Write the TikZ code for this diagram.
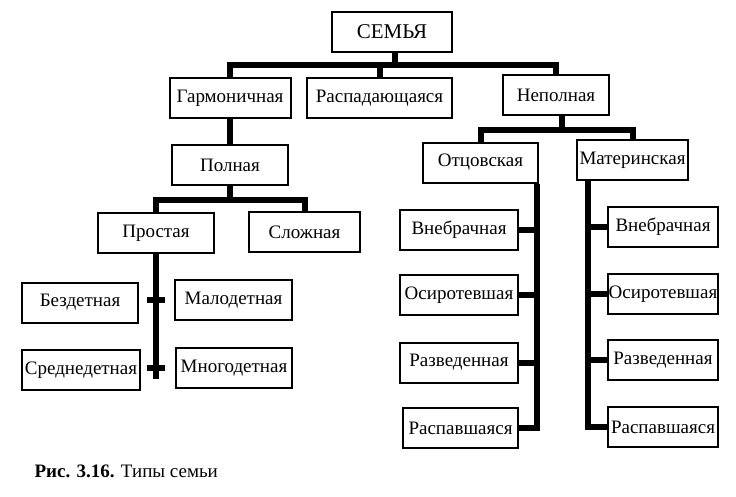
\documentclass[tikz,border=0pt]{standalone}
\usepackage{fontspec}
\setmainfont{Liberation Serif}
\begin{document}
\begin{tikzpicture}[x=1pt, y=-1pt, box/.style={draw, line width=2pt, minimum height=40pt, inner sep=1pt, font=\fontsize{19}{22}\selectfont}, link/.style={draw=black, line width=6pt}]
\useasboundingbox (0,0) rectangle (736,496);
\begin{scope}
\node[box,minimum width=120pt,font=\fontsize{21}{24}\selectfont] (semya) at (392,32) {СЕМЬЯ};%top
\node[box,minimum width=121pt] (garm) at (230,98) {Гармоничная};
\node[box,minimum width=145pt] (raspad) at (379.5,98) {Распадающаяся};
\node[box,minimum width=106pt] (nepol) at (556,95) {Неполная};
\node[box,minimum width=116pt] (poln) at (230,165) {Полная};
\node[box,minimum width=116pt] (prost) at (156,233) {Простая};
\node[box,minimum width=111pt] (slozh) at (304.5,232) {Сложная};
\node[box,minimum width=116pt] (bezd) at (80,302.5) {Бездетная};
\node[box,minimum width=117pt] (malod) at (233.5,300) {Малодетная};
\node[box,minimum width=118pt] (sredn) at (81,370) {Среднедетная};
\node[box,minimum width=116pt] (mnogo) at (234,368) {Многодетная};
\node[box,minimum width=115pt] (otc) at (480.5,162.5) {Отцовская};
\node[box,minimum width=111pt] (mat) at (632.5,160) {Материнская};
%otcovskaya
\node[box,minimum width=118pt] (vnebr1) at (459,230) {Внебрачная};
\node[box,minimum width=118pt] (sirot1) at (459,295) {Осиротевшая};
\node[box,minimum width=118pt] (razv1) at (459,362.5) {Разведенная};
\node[box,minimum width=115pt] (raspav1) at (460.5,428) {Распавшаяся};
%materinskaya
\node[box,minimum width=110pt] (vnebr2) at (663,227) {Внебрачная};
\node[box,minimum width=110pt] (sirot2) at (663,294) {Осиротевшая};
\node[box,minimum width=110pt] (razv2) at (663,360) {Разведенная};
\node[box,minimum width=110pt] (raspav2) at (663,427) {Распавшаяся};
\end{scope}
\coordinate (bar1) at (395,65);
\coordinate (bar2) at (230,200);
\coordinate (bar3) at (562,130);
\begin{scope}[every path/.style={link}]
\draw (semya.south -| bar1) -- (bar1);
\draw (garm.north) |- (bar1) -| (nepol.north);
\draw (raspad.north) -- (raspad.north |- bar1);
\draw (garm) edge (poln);
\draw (poln.south) -- (bar2);
\draw (prost.north) |- (bar2) -| (slozh.north);
\draw (nepol.south -| bar3) -- (bar3);
\draw (otc.north) |- (bar3) -| (mat.north);
%prostaya
\draw (prost.south) -- ++(0,125);
\draw ([xshift=-9pt]prost.south |- malod) -- ([xshift=9pt]prost.south |- malod);
\draw ([xshift=-9pt]prost.south |- mnogo) -- ([xshift=9pt]prost.south |- mnogo);
%otcovskaya
\draw ([xshift=-2pt]otc.south east) |- (raspav1.east);
\draw (vnebr1.east) -- (vnebr1.east -| otc.south east);
\draw (sirot1.east) -- (sirot1.east -| otc.south east);
\draw (razv1.east) -- (razv1.east -| otc.south east);
%materinskaya
\draw ([xshift=12pt]mat.south west) |- (raspav2.west);
\draw (vnebr2.west) -- ([xshift=12pt]vnebr2.west -| mat.south west);
\draw (sirot2.west) -- ([xshift=12pt]sirot2.west -| mat.south west);
\draw (razv2.west) -- ([xshift=12pt]razv2.west -| mat.south west);
\end{scope}
\node[anchor=base west, font=\fontsize{19}{22}\selectfont] (caption) at (31,477) {\textbf{Рис. 3.16.} Типы семьи};
\end{tikzpicture}
\end{document}
